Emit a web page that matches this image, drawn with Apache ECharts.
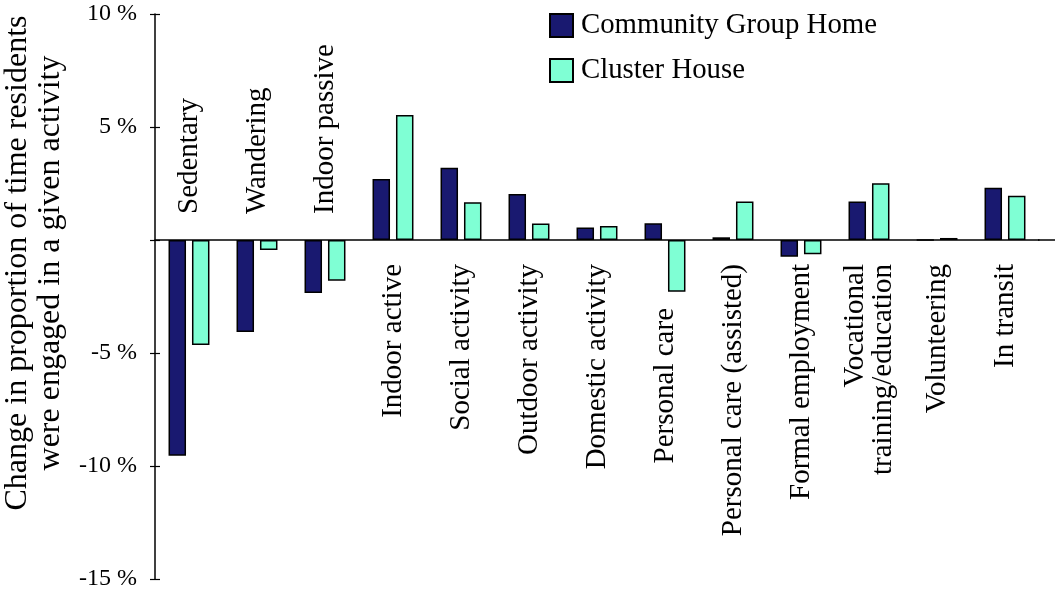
<!DOCTYPE html>
<html>
<head>
<meta charset="utf-8">
<script src="https://cdn.jsdelivr.net/npm/echarts@6/dist/echarts.min.js"></script>
<style>html,body{margin:0;padding:0;background:#fff;}#c{width:1055px;height:594px;}</style>
</head>
<body>
<div id="c"></div>
<script>
const categories = ['Sedentary','Wandering','Indoor passive','Indoor active','Social activity','Outdoor activity','Domestic activity','Personal care','Personal care (assisted)','Formal employment','Vocational\ntraining/education','Volunteering','In transit'];
const topLabelCount = 3;
const communityGroupHome = [-9.55, -4.07, -2.35, 2.70, 3.20, 2.04, 0.55, 0.74, 0.12, -0.74, 1.70, 0.01, 2.31];
const clusterHouse = [-4.65, -0.44, -1.80, 5.53, 1.67, 0.73, 0.62, -2.29, 1.70, -0.63, 2.51, 0.09, 1.96];
const seriesNames = ['Community Group Home', 'Cluster House'];
const yTicks = {min: -15, max: 10, interval: 5};
const yTitle = 'Change in proportion of time residents\nwere engaged in a given activity';

const FONT = '"Liberation Serif", "Times New Roman", serif';
const W = 1055, H = 594;
const G = {left: 155, right: 16, top: 14, bottom: 15};
const plotH = H - G.top - G.bottom;
const pxPerUnit = plotH / (yTicks.max - yTicks.min);
const zeroY = G.top + pxPerUnit * yTicks.max;
const LABEL_MARGIN = 24, LABEL_CLEAR = 16, LABEL_FS = 29;

// push a below-axis label further down when a bar in that category hangs past the label margin
function labelPad(i) {
  const depth = -Math.min(0, communityGroupHome[i], clusterHouse[i]) * pxPerUnit;
  return depth > LABEL_MARGIN ? Math.round(depth + LABEL_CLEAR - LABEL_MARGIN) : 0;
}
const rich = {};
categories.forEach((c, i) => {
  rich['p' + i] = {fontFamily: FONT, fontSize: LABEL_FS, color: '#000', lineHeight: 28, padding: [0, labelPad(i), 0, 0]};
});

const chart = echarts.init(document.getElementById('c'), null, {renderer: 'canvas'});
const barStyle = (color) => ({color: color, borderColor: '#000', borderWidth: 1.5});
const labelBase = {interval: 0, rotate: 90, fontFamily: FONT, fontSize: LABEL_FS, color: '#000', lineHeight: 28};
const hiddenY = (gi) => ({type: 'value', gridIndex: gi, show: false, min: 0, max: 1});
const option = {
  animation: false,
  backgroundColor: '#fff',
  grid: [
    {left: G.left, right: G.right, top: G.top, bottom: G.bottom, outerBoundsMode: 'none'},
    {left: G.left, right: G.right, top: G.top, bottom: H - zeroY, outerBoundsMode: 'none'},
    {left: G.left, right: G.right, top: zeroY, bottom: G.bottom, outerBoundsMode: 'none'}
  ],
  legend: {
    orient: 'vertical', left: 544, top: 6, icon: 'rect',
    itemWidth: 23, itemHeight: 23, itemGap: 16,
    textStyle: {fontFamily: FONT, fontSize: 28.8, color: '#000', padding: [0,0,0,3], lineHeight: 26},
    data: seriesNames
  },
  xAxis: [
    {
      type: 'category', data: categories, gridIndex: 0, position: 'bottom',
      axisLine: {onZero: true, lineStyle: {color: '#000', width: 1.5}},
      axisTick: {show: false},
      axisLabel: {show: false}
    },
    {
      type: 'category', data: categories, gridIndex: 1, position: 'bottom',
      axisLine: {show: false}, axisTick: {show: false}, splitLine: {show: false},
      axisLabel: Object.assign({}, labelBase, {margin: LABEL_MARGIN, rich: rich,
        formatter: (v, i) => i < topLabelCount ? '' : v.split('\n').map(s => '{p' + i + '|' + s + '}').join('\n')})
    },
    {
      type: 'category', data: categories, gridIndex: 2, position: 'top',
      axisLine: {show: false}, axisTick: {show: false}, splitLine: {show: false},
      axisLabel: Object.assign({}, labelBase, {margin: 26, formatter: (v, i) => i < topLabelCount ? v : ''})
    }
  ],
  yAxis: [
    {
      type: 'value', gridIndex: 0, min: yTicks.min, max: yTicks.max, interval: yTicks.interval, position: 'left',
      splitLine: {show: false},
      axisLine: {show: true, lineStyle: {color: '#000', width: 1.5}},
      axisTick: {show: true, length: 5, lineStyle: {color: '#000', width: 1.2}},
      axisLabel: {margin: 18, fontFamily: FONT, fontSize: 24, color: '#000',
        formatter: (v) => v === 0 ? '' : (v + ' %')}
    },
    {
      type: 'value', gridIndex: 0, min: yTicks.min, max: yTicks.max, interval: yTicks.interval, position: 'left', offset: 0,
      splitLine: {show: false},
      axisLine: {show: false},
      axisTick: {show: true, inside: true, length: 5, lineStyle: {color: '#000', width: 1.2}},
      axisLabel: {show: false}
    },
    hiddenY(1),
    hiddenY(2)
  ],
  graphic: [
    {
      type: 'text',
      x: 34, y: 263, rotation: Math.PI / 2,
      style: {text: yTitle, fontFamily: FONT, fontSize: 32, fill: '#000', align: 'center', verticalAlign: 'middle', lineHeight: 33}
    }
  ],
  series: [
    {name: seriesNames[0], type: 'bar', xAxisIndex: 0, yAxisIndex: 0, data: communityGroupHome, barWidth: 17.5, barGap: '34%', itemStyle: barStyle('#191970')},
    {name: seriesNames[1], type: 'bar', xAxisIndex: 0, yAxisIndex: 0, data: clusterHouse, barWidth: 17.5, barGap: '34%', itemStyle: barStyle('#7FFFD4')}
  ]
};
chart.setOption(option);
const y0 = chart.convertToPixel({yAxisIndex: 0}, 0);
const xEnd = W - G.right;
chart.setOption({graphic: option.graphic.concat([{
  type: 'line', shape: {x1: xEnd - 1, y1: y0, x2: W, y2: y0}, style: {stroke: '#000', lineWidth: 1.5}
}])});
</script>
</body>
</html>
